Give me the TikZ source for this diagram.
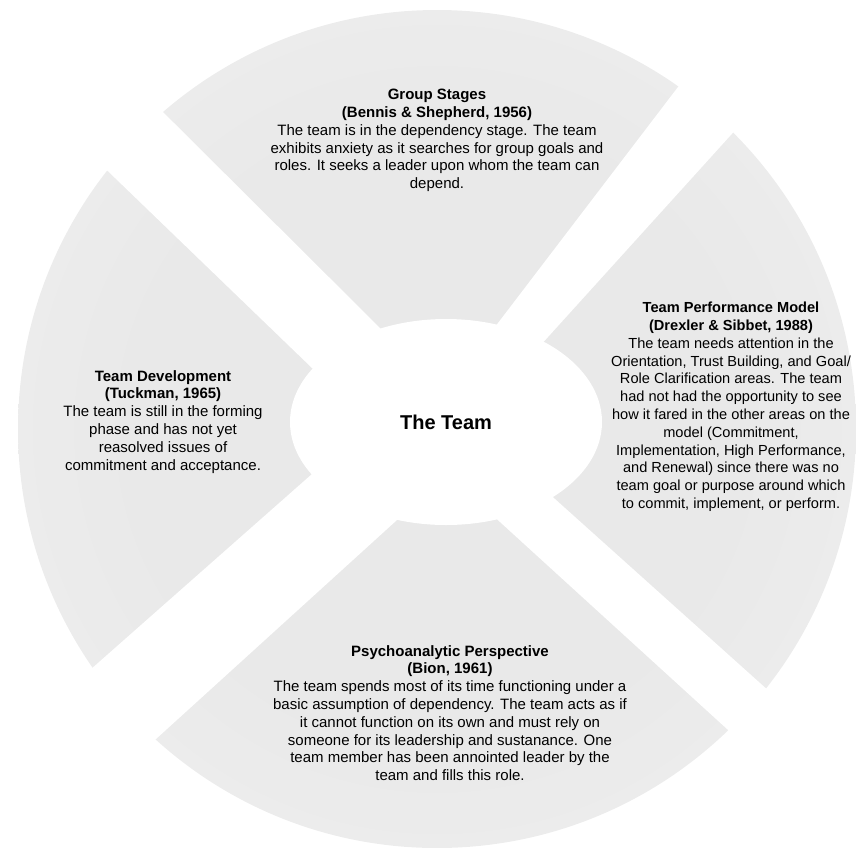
\documentclass[tikz,border=0pt]{standalone}
\usepackage{fontspec}
\setmainfont{Liberation Sans}
\usetikzlibrary{calc,shapes.geometric}
\definecolor{secin}{HTML}{E9E9E9}
\definecolor{secout}{HTML}{F6F6F6}
\definecolor{elin}{HTML}{FFFFFF}
\definecolor{elout}{HTML}{F3F3F3}
\pgfdeclareradialshading{sectshade}{\pgfpoint{0bp}{0bp}}{color(0bp)=(secin); color(18bp)=(secin); color(50bp)=(secout)}
\pgfdeclareradialshading{ellshade}{\pgfpoint{0bp}{0bp}}{color(0bp)=(elin); color(32bp)=(elin); color(50bp)=(elout)}
\begin{document}
\begin{tikzpicture}[x=1pt,y=-1pt,
  txt/.style={align=center, inner sep=0pt, anchor=north, font=\fontsize{15}{17.8}\selectfont},
  band/.style={fill=white, draw=none}]
\useasboundingbox (0,0) rectangle (856,847);
\coordinate (C) at (437,429);
% band edge lines (outer point O, inner point I)
\coordinate (tlO) at (173,122); \coordinate (tlI) at (380,328);
\coordinate (trO) at (678,87);  \coordinate (trI) at (498,323);
\coordinate (rtO) at (739,126); \coordinate (rtI) at (548,337);
\coordinate (rbO) at (770,692); \coordinate (rbI) at (555,499);
\coordinate (brO) at (727,729); \coordinate (brI) at (500,522);
\coordinate (blO) at (167,729); \coordinate (blI) at (397,520);
\coordinate (lbO) at (107,655); \coordinate (lbI) at (312,474);
\coordinate (ltO) at (115,178); \coordinate (ltI) at (312,368);
% shaded disc
\shade[shading=sectshade] (C) circle (419pt);
% white bands between the sectors
\fill[band] ($(tlO)!1.15!(tlI)$) -- ($(tlI)!3!(tlO)$) -- ($(ltI)!3!(ltO)$) -- ($(ltO)!1.15!(ltI)$) -- cycle;
\fill[band] ($(trO)!1.15!(trI)$) -- ($(trI)!3!(trO)$) -- ($(rtI)!3!(rtO)$) -- ($(rtO)!1.15!(rtI)$) -- cycle;
\fill[band] ($(rbO)!1.15!(rbI)$) -- ($(rbI)!3!(rbO)$) -- ($(brI)!3!(brO)$) -- ($(brO)!1.15!(brI)$) -- cycle;
\fill[band] ($(blO)!1.15!(blI)$) -- ($(blI)!3!(blO)$) -- ($(lbI)!3!(lbO)$) -- ($(lbO)!1.15!(lbI)$) -- cycle;
% centre
\node[ellipse, shade, shading=ellshade, minimum width=312pt, minimum height=206pt, inner sep=0pt,
      font=\fontsize{20}{24}\selectfont\bfseries] (team) at (446,422) {The Team};
% texts
\node[txt] (top) at (437,89) {\textbf{Group Stages}\\\textbf{(Bennis \& Shepherd, 1956)}\\
The team is in the dependency stage. The team\\
exhibits anxiety as it searches for group goals and\\
roles. It seeks a leader upon whom the team can\\
depend.};
\node[txt, font=\fontsize{14.6}{17.8}\selectfont] (right) at (731,302) {\textbf{Team Performance Model}\\\textbf{(Drexler \& Sibbet, 1988)}\\
The team needs attention in the\\
Orientation, Trust Building, and Goal/\\
Role Clarification areas. The team\\
had not had the opportunity to see\\
how it fared in the other areas on the\\
model (Commitment,\\
Implementation, High Performance,\\
and Renewal) since there was no\\
team goal or purpose around which\\
to commit, implement, or perform.};
\node[txt] (left) at (163,370) {\textbf{Team Development}\\\textbf{(Tuckman, 1965)}\\
The team is still in the forming\\
phase and has not yet\\
reasolved issues of\\
commitment and acceptance.};
\node[txt] (bottom) at (450,645) {\textbf{Psychoanalytic Perspective}\\\textbf{(Bion, 1961)}\\
The team spends most of its time functioning under a\\
basic assumption of dependency. The team acts as if\\
it cannot function on its own and must rely on\\
someone for its leadership and sustanance. One\\
team member has been annointed leader by the\\
team and fills this role.};
\end{tikzpicture}
\end{document}
